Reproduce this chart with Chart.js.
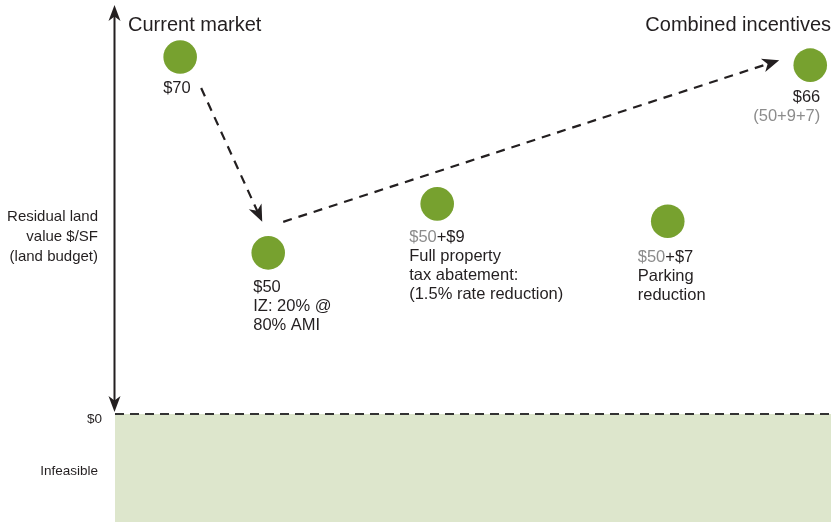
<!DOCTYPE html>
<html>
<head>
<meta charset="utf-8">
<script src="https://cdn.jsdelivr.net/npm/chart.js@4"></script>
<style>
  body { margin: 0; background: #fff; }
  #wrap { width: 831px; height: 522px; }
</style>
</head>
<body>
<div id="wrap"><canvas id="myChart" width="831" height="522"></canvas></div>
<script>
// stages of the land budget story
const stages = ['Current market', 'IZ', 'Tax abatement', 'Parking', 'Combined incentives']
// residual land value $/SF as labelled
const landValues = [70, 50, 59, 57, 66]
// height at which each dot sits in the schematic (same $ units as the axis)
const levels = [70, 31.6, 41.2, 37.8, 68.4]
// horizontal place of each stage (0 = value axis, 100 = right edge)
const stageX = [9.1, 21.4, 45.0, 77.2, 97.1]

// text under each dot: [gray part, dark part] per line
const pointText = [
    [['', '$70']],
    [['', '$50'], ['', 'IZ: 20% @'], ['', '80% AMI']],
    [['$50', '+$9'], ['', 'Full property'], ['', 'tax abatement:'], ['', '(1.5% rate reduction)']],
    [['$50', '+$7'], ['', 'Parking'], ['', 'reduction']],
    [['', '$66'], ['(50+9+7)', '']]
]
// where the text sits from the dot centre, and alignment
const textPlace = [
    { dx: -17, dy: 31, align: 'left' },
    { dx: -15, dy: 35, align: 'left' },
    { dx: -28, dy: 34, align: 'left' },
    { dx: -30, dy: 36, align: 'left' },
    { dx: 10, dy: 32, align: 'right' }
]
// dashed arrows between dots: from point, to point, pixel offsets
const arrows = [
    { from: 0, to: 1, s: [21, 31], e: [-6, -31] },
    { from: 1, to: 4, s: [15, -31], e: [-31, -5] }
]

const dark = '#231f20'
const gray = '#8c8c8c'
const green = '#77a12f'
const font = '"Liberation Sans", Arial, Helvetica, sans-serif'

function arrowHead(ctx, x1, y1, x2, y2, len, half) {
    let a = Math.atan2(y2 - y1, x2 - x1)
    let cos = Math.cos(a), sin = Math.sin(a)
    ctx.beginPath()
    ctx.moveTo(x2, y2)
    ctx.lineTo(x2 - len * cos + half * sin, y2 - len * sin - half * cos)
    ctx.lineTo(x2 - len * 0.72 * cos, y2 - len * 0.72 * sin)
    ctx.lineTo(x2 - len * cos - half * sin, y2 - len * sin + half * cos)
    ctx.closePath()
    ctx.fill()
}

const decorations = {
    id: 'decorations',
    afterDatasetsDraw(chart) {
        const ctx = chart.ctx
        const xs = chart.scales.x, ys = chart.scales.y
        const px = i => [xs.getPixelForValue(stageX[i]), ys.getPixelForValue(levels[i])]
        const axisX = xs.getPixelForValue(0) - 0.5
        ctx.save()

        // value axis with arrow on both ends
        ctx.strokeStyle = dark
        ctx.fillStyle = dark
        ctx.lineWidth = 2
        ctx.setLineDash([])
        ctx.beginPath()
        ctx.moveTo(axisX, 14)
        ctx.lineTo(axisX, 403)
        ctx.stroke()
        arrowHead(ctx, axisX, 22, axisX, 5, 16, 6)
        arrowHead(ctx, axisX, 398, axisX, 412, 16, 6)

        // dashed arrows
        arrows.forEach(ar => {
            let a = px(ar.from), b = px(ar.to)
            let x1 = a[0] + ar.s[0], y1 = a[1] + ar.s[1]
            let x2 = b[0] + ar.e[0], y2 = b[1] + ar.e[1]
            let ang = Math.atan2(y2 - y1, x2 - x1)
            ctx.setLineDash([9, 7])
            ctx.lineWidth = 2.2
            ctx.beginPath()
            ctx.moveTo(x1, y1)
            ctx.lineTo(x2 - 10 * Math.cos(ang), y2 - 10 * Math.sin(ang))
            ctx.stroke()
            ctx.setLineDash([])
            arrowHead(ctx, x1, y1, x2, y2, 17, 7)
        })

        // stage titles
        ctx.font = '20px ' + font
        ctx.textBaseline = 'middle'
        ctx.fillStyle = dark
        ctx.textAlign = 'left'
        ctx.fillText(stages[0], 128, 25)
        ctx.textAlign = 'right'
        ctx.fillText(stages[4], 831, 25)

        // text under the dots
        ctx.font = '16.5px ' + font
        pointText.forEach((lines, i) => {
            let p = px(i), place = textPlace[i]
            lines.forEach((seg, j) => {
                let y = p[1] + place.dy + j * 19
                let w1 = ctx.measureText(seg[0]).width
                let w2 = ctx.measureText(seg[1]).width
                let x = place.align === 'left' ? p[0] + place.dx : p[0] + place.dx - w1 - w2
                ctx.textAlign = 'left'
                ctx.fillStyle = gray
                ctx.fillText(seg[0], x, y)
                ctx.fillStyle = dark
                ctx.fillText(seg[1], x + w1, y)
            })
        })

        // value axis labels
        ctx.fillStyle = dark
        ctx.textAlign = 'right'
        ctx.font = '15px ' + font
        let axisTitle = ['Residual land', 'value $/SF', '(land budget)']
        axisTitle.forEach((t, j) => ctx.fillText(t, 98, 217 + j * 20))
        ctx.font = '13.5px ' + font
        ctx.fillText('$0', 102, ys.getPixelForValue(0) + 5)
        ctx.fillText('Infeasible', 98, 471)

        ctx.restore()
    }
}

let ctx = document.getElementById('myChart').getContext('2d')
let myChart = new Chart(ctx, {
    type: 'scatter',
    data: {
        datasets: [{
            label: 'Land value',
            data: stageX.map((x, i) => ({ x: x, y: levels[i] })),
            backgroundColor: green,
            borderWidth: 0,
            pointRadius: 16.8,
            pointHoverRadius: 16.8,
            order: 1
        }, {
            label: 'Infeasible',
            type: 'line',
            data: [{ x: 0, y: 0 }, { x: 100, y: 0 }],
            borderColor: '#333333',
            borderWidth: 2.2,
            borderDash: [9, 6],
            backgroundColor: '#dde6cc',
            fill: 'start',
            pointRadius: 0,
            order: 2
        }]
    },
    options: {
        responsive: false,
        animation: false,
        layout: { autoPadding: false, padding: { left: 115, right: 0, top: 0, bottom: 0 } },
        plugins: {
            legend: { display: false },
            tooltip: { enabled: false }
        },
        scales: {
            x: { type: 'linear', min: 0, max: 100, display: false },
            y: { type: 'linear', min: -21.18, max: 81.18, display: false }
        }
    },
    plugins: [decorations]
});
</script>
</body>
</html>
